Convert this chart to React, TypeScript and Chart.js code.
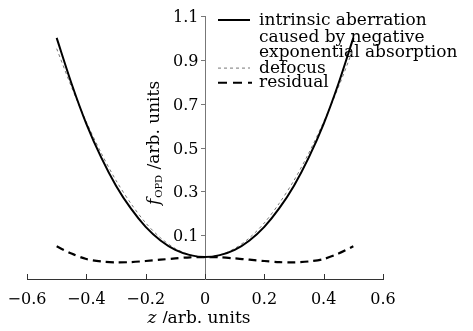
import { useEffect, useRef } from 'react';
import { Chart, registerables } from 'chart.js';

Chart.register(...registerables);

// Axial position z (arb. units)
const zValues = [
  -0.5, -0.45, -0.4, -0.35, -0.3, -0.25, -0.2, -0.15, -0.1, -0.05, 0,
  0.05, 0.1, 0.15, 0.2, 0.25, 0.3, 0.35, 0.4, 0.45, 0.5,
];

// Intrinsic aberration caused by negative exponential absorption
const intrinsic = [
  1.0, 0.792, 0.608, 0.455, 0.326, 0.222, 0.138, 0.076, 0.033, 0.009, 0,
  0.009, 0.033, 0.076, 0.138, 0.222, 0.326, 0.455, 0.608, 0.792, 1.0,
];

// Defocus component
const defocus = [
  0.951, 0.776, 0.617, 0.475, 0.35, 0.245, 0.156, 0.088, 0.039, 0.01, 0,
  0.01, 0.039, 0.088, 0.156, 0.245, 0.35, 0.475, 0.617, 0.776, 0.951,
];

// Residual after removing defocus
const residual = [
  0.049, 0.016, -0.009, -0.02, -0.024, -0.023, -0.018, -0.012, -0.006, -0.001, 0,
  -0.001, -0.006, -0.012, -0.018, -0.023, -0.024, -0.02, -0.009, 0.016, 0.049,
];

const xTicks = [-0.6, -0.4, -0.2, 0, 0.2, 0.4, 0.6];
const yTicks = [0.1, 0.3, 0.5, 0.7, 0.9, 1.1];

const legendIntrinsic = ['intrinsic aberration', 'caused by negative', 'exponential absorption'];
const legendDefocus = 'defocus';
const legendResidual = 'residual';

const SERIF = '"DejaVu Serif", serif';

const fmtX = (v: number) =>
  v === 0 ? '0' : (v < 0 ? '\u2212' : '') + Math.abs(v).toFixed(1);

const decorations = {
  id: 'decorations',
  beforeDatasetsDraw(chart: any) {
    const { ctx } = chart;
    const xs = chart.scales.x;
    const ys = chart.scales.y;
    const { bottom } = chart.chartArea;
    ctx.save();

    // legend
    const lx0 = 210;
    const lx1 = 242;
    const tx = 251;
    const rows = [17, 33.6, 49.2, 64.6, 79.2];
    ctx.font = `17px ${SERIF}`;
    ctx.fillStyle = '#000';
    ctx.textAlign = 'left';
    ctx.textBaseline = 'alphabetic';
    legendIntrinsic.forEach((t, i) => ctx.fillText(t, tx, rows[i]));
    ctx.fillText(legendDefocus, tx, rows[3]);
    ctx.fillText(legendResidual, tx, rows[4]);

    ctx.lineCap = 'butt';
    ctx.strokeStyle = '#000';
    ctx.lineWidth = 2;
    ctx.setLineDash([]);
    ctx.beginPath();
    ctx.moveTo(lx0, rows[0] - 5);
    ctx.lineTo(lx1, rows[0] - 5);
    ctx.stroke();

    ctx.strokeStyle = '#777';
    ctx.lineWidth = 1;
    ctx.setLineDash([3, 3]);
    ctx.beginPath();
    ctx.moveTo(lx0, rows[3] - 4.5);
    ctx.lineTo(lx1, rows[3] - 4.5);
    ctx.stroke();

    ctx.strokeStyle = '#000';
    ctx.lineWidth = 2;
    ctx.setLineDash([9, 6]);
    ctx.beginPath();
    ctx.moveTo(lx0, rows[4] - 4.5);
    ctx.lineTo(lx1 + 2, rows[4] - 4.5);
    ctx.stroke();
    ctx.setLineDash([]);

    // inward tick marks on the z axis
    ctx.strokeStyle = '#333';
    ctx.lineWidth = 1;
    xTicks.forEach((v) => {
      const px = Math.round(xs.getPixelForValue(v)) + 0.5;
      ctx.beginPath();
      ctx.moveTo(px, bottom);
      ctx.lineTo(px, bottom - 5);
      ctx.stroke();
    });

    // ticks and labels of the centred f axis
    const axisX = Math.round(xs.getPixelForValue(0)) + 0.5;
    ctx.strokeStyle = '#777';
    ctx.font = `16px ${SERIF}`;
    ctx.textAlign = 'right';
    ctx.textBaseline = 'middle';
    yTicks.forEach((v) => {
      const py = Math.round(ys.getPixelForValue(v)) + 0.5;
      ctx.beginPath();
      ctx.moveTo(axisX - 4.5, py);
      ctx.lineTo(axisX, py);
      ctx.stroke();
      ctx.fillText(v.toFixed(1), axisX - 7, py + 1);
    });

    // axis titles
    ctx.textAlign = 'left';
    ctx.fillStyle = '#000';
    ctx.textBaseline = 'middle';
    // z /arb. units
    ctx.font = `italic 17px ${SERIF}`;
    const zW = ctx.measureText('z').width;
    ctx.font = `17px ${SERIF}`;
    const restW = ctx.measureText(' /arb. units').width;
    let x = 191 - (zW + restW) / 2;
    ctx.font = `italic 17px ${SERIF}`;
    ctx.fillText('z', x, 311);
    ctx.font = `17px ${SERIF}`;
    ctx.fillText(' /arb. units', x + zW, 311);

    // f_OPD /arb. units (rotated)
    ctx.translate(147, 135);
    ctx.rotate(-Math.PI / 2);
    ctx.font = `italic 17px ${SERIF}`;
    const fW = ctx.measureText('f').width + 1;
    ctx.font = `10px ${SERIF}`;
    const subW = ctx.measureText('OPD').width;
    ctx.font = `17px ${SERIF}`;
    const unitW = ctx.measureText(' /arb. units').width;
    x = -(fW + subW + unitW) / 2;
    ctx.font = `italic 17px ${SERIF}`;
    ctx.fillText('f', x, 0);
    ctx.font = `10px ${SERIF}`;
    ctx.fillText('OPD', x + fW, 4);
    ctx.font = `17px ${SERIF}`;
    ctx.fillText(' /arb. units', x + fW + subW, 0);
    ctx.restore();
  },
};

export default function App() {
  const canvasRef = useRef<HTMLCanvasElement | null>(null);

  useEffect(() => {
    if (!canvasRef.current) return;
    const chart = new Chart(canvasRef.current, {
      type: 'line',
      data: {
        datasets: [
          {
            label: 'intrinsic aberration caused by negative exponential absorption',
            data: zValues.map((z, i) => ({ x: z, y: intrinsic[i] })),
            borderColor: '#000',
            borderWidth: 2,
            pointRadius: 0,
            tension: 0.3,
          },
          {
            label: 'defocus',
            data: zValues.map((z, i) => ({ x: z, y: defocus[i] })),
            borderColor: '#777',
            borderWidth: 1,
            borderDash: [3, 3],
            pointRadius: 0,
            tension: 0.3,
          },
          {
            label: 'residual',
            data: zValues.map((z, i) => ({ x: z, y: residual[i] })),
            borderColor: '#000',
            borderWidth: 2.2,
            borderDash: [8, 5],
            pointRadius: 0,
            tension: 0.3,
          },
        ],
      },
      options: {
        responsive: false,
        animation: false,
        layout: { padding: { left: 19, right: 82, top: 8, bottom: 0 } },
        plugins: { legend: { display: false }, tooltip: { enabled: false } },
        scales: {
          x: {
            type: 'linear',
            position: 'bottom',
            min: -0.6,
            max: 0.6,
            afterBuildTicks: (s: any) => {
              s.ticks = xTicks.map((v) => ({ value: v }));
            },
            afterFit: (s: any) => {
              s.height = 44;
              s.paddingLeft = 0;
              s.paddingRight = 0;
            },
            ticks: {
              color: '#000',
              font: { family: SERIF, size: 16 },
              padding: 11,
              maxRotation: 0,
              callback: (v: any) => fmtX(Number(v)),
            },
            grid: { drawOnChartArea: false, drawTicks: false },
            border: { color: '#333', width: 1 },
          },
          y: {
            type: 'linear',
            position: { x: 0 },
            min: -0.1,
            max: 1.1,
            afterBuildTicks: (s: any) => {
              s.ticks = yTicks.map((v) => ({ value: v }));
            },
            afterFit: (s: any) => {
              s.paddingTop = 0;
              s.paddingBottom = 0;
            },
            ticks: { display: false },
            grid: { drawOnChartArea: false, drawTicks: false },
            border: { color: '#777', width: 1 },
          },
        },
      },
      plugins: [decorations],
    });
    return () => chart.destroy();
  }, []);

  return (
    <div style={{ width: 457, height: 315 }}>
      <canvas ref={canvasRef} width={457} height={315} />
    </div>
  );
}
